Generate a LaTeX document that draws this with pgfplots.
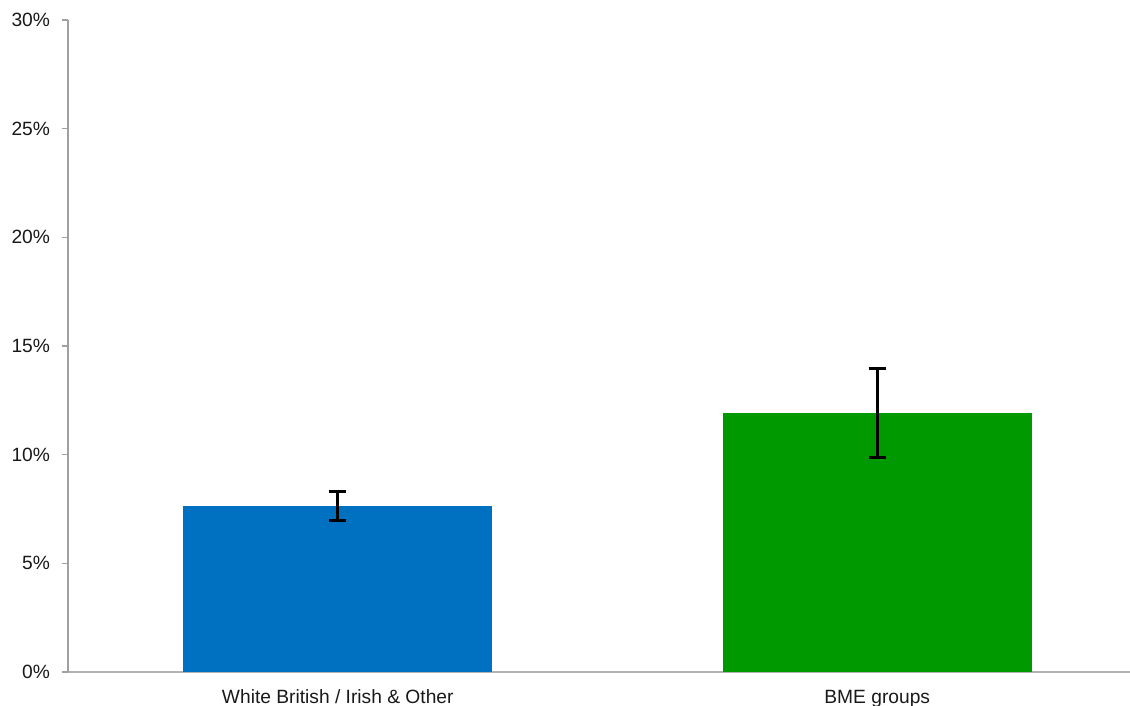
\documentclass[border=0pt]{standalone}
\usepackage{pgfplots}
\pgfplotsset{compat=1.18}
\usepackage{fontspec}
\setmainfont{Liberation Sans}

\definecolor{barblue}{HTML}{0070C0}
\definecolor{bargreen}{HTML}{009900}
\definecolor{axisgray}{HTML}{A0A0A0}

\begin{document}
\begin{tikzpicture}
\begin{axis}[
    scale only axis,
    width=531pt, height=326pt,
    ybar, bar width=154.5pt, bar shift=0pt,
    xmin=-0.5, xmax=1.4685,
    ymin=0, ymax=30,
    xtick={0,1},
    xticklabels={White British / Irish \& Other, BME groups},
    ytick={0,5,...,30},
    yticklabel={\pgfmathprintnumber{\tick}\%},
    /pgf/number format/assume math mode=true,
    axis lines*=left,
    axis line style={axisgray, line width=0.6pt},
    x axis line style={-, draw=axisgray!80, line width=1pt},
    y axis line style={-},
    major tick length=3pt,
    tick align=outside,
    xtick style={draw=none},
    ytick style={axisgray, line width=0.6pt},
    tick label style={font=\fontsize{9.6}{11}\selectfont, text=black!90},
    yticklabel style={xshift=-2.5pt},
    xticklabel style={yshift=-2.5pt},
    clip=false,
]
\addplot[fill=barblue, draw=none,
    error bars/.cd, y dir=both, y explicit,
    error bar style={black, line width=1.6pt},
    error mark options={black, line width=1.6pt, mark size=4.3pt, rotate=90}]
    coordinates {(0,7.64) +- (0,0.66)};
\addplot[fill=bargreen, draw=none,
    error bars/.cd, y dir=both, y explicit,
    error bar style={black, line width=1.6pt},
    error mark options={black, line width=1.6pt, mark size=4.3pt, rotate=90}]
    coordinates {(1,11.92) +- (0,2.04)};
\end{axis}
\pgfresetboundingbox
\path[use as bounding box] (-34pt,-17pt) rectangle (531pt,336pt);
\end{tikzpicture}
\end{document}
